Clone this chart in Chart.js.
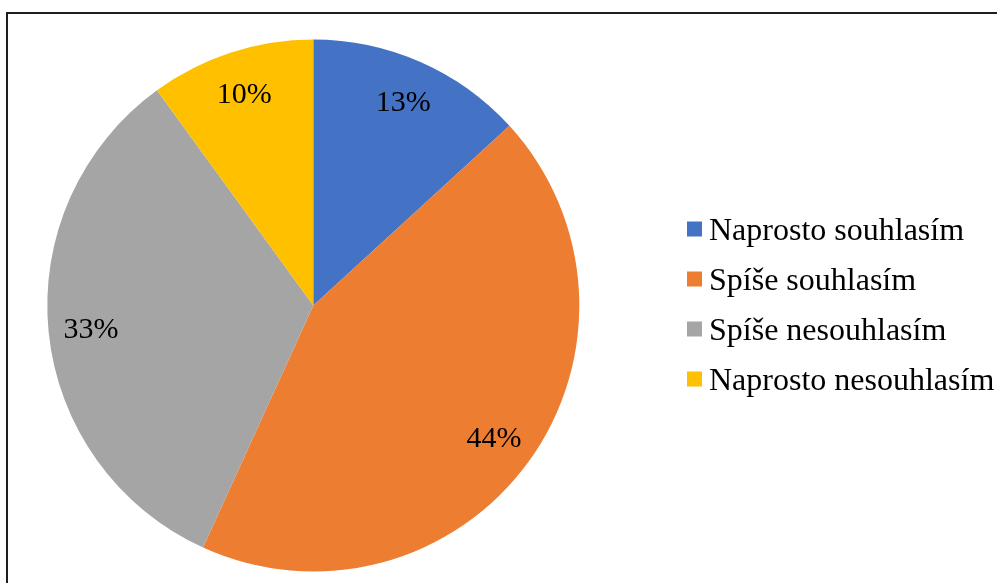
<!DOCTYPE html>
<html>
<head>
<meta charset="utf-8">
<script src="https://cdn.jsdelivr.net/npm/chart.js@4/dist/chart.umd.min.js"></script>
<style>
  html, body { margin: 0; padding: 0; background: #fff; overflow: hidden; }
  #wrap { position: relative; width: 997px; height: 583px; }
  #frame {
    position: absolute; left: 6px; top: 12px; width: 1100px; height: 700px;
    border-left: 2px solid #1e1e1e; border-top: 2px solid #1e1e1e;
  }
  canvas { position: absolute; left: 0; top: 0; }
</style>
</head>
<body>
<div id="wrap">
  <div id="frame"></div>
  <canvas id="chart" width="997" height="583"></canvas>
</div>
<script>
const categories = ['Naprosto souhlasím', 'Spíše souhlasím', 'Spíše nesouhlasím', 'Naprosto nesouhlasím'];
const shares = [13.2, 43.6, 33.2, 10.0];
const colors = ['#4472C4', '#ED7D31', '#A5A5A5', '#FFC000'];

const serif = '"Liberation Serif", "Times New Roman", serif';

// percent labels inside the slices, near the rim
const sliceLabels = {
  id: 'sliceLabels',
  afterDatasetsDraw(chart) {
    const { ctx } = chart;
    const meta = chart.getDatasetMeta(0);
    ctx.save();
    ctx.font = `30px ${serif}`;
    ctx.fillStyle = '#000';
    ctx.textAlign = 'center';
    ctx.textBaseline = 'alphabetic';
    meta.data.forEach((arc, i) => {
      const { x, y, startAngle, endAngle, outerRadius } = arc.getProps(['x', 'y', 'startAngle', 'endAngle', 'outerRadius'], true);
      const mid = (startAngle + endAngle) / 2;
      const r = outerRadius * 0.84;
      const px = x + Math.cos(mid) * r;
      const py = y + Math.sin(mid) * r;
      ctx.fillText(`${Math.round(shares[i])}%`, px, py + 10.5);
    });
    ctx.restore();
  },
};

// legend drawn to the right of the pie
const sideLegend = {
  id: 'sideLegend',
  afterDraw(chart) {
    const { ctx } = chart;
    const items = chart.legend.legendItems;
    ctx.save();
    ctx.font = `32px ${serif}`;
    ctx.textBaseline = 'alphabetic';
    items.forEach((item, i) => {
      const cy = 229 + i * 50;
      ctx.fillStyle = item.fillStyle;
      ctx.fillRect(687, cy - 7.5, 15, 15);
      ctx.fillStyle = '#000';
      ctx.fillText(item.text, 709, cy + 10.5);
    });
    ctx.restore();
  },
};

new Chart(document.getElementById('chart'), {
  type: 'pie',
  data: {
    labels: categories,
    datasets: [{
      data: shares,
      backgroundColor: colors,
      borderWidth: 0,
    }],
  },
  options: {
    responsive: false,
    animation: false,
    layout: { padding: { left: 47.3, right: 417.7, top: 39.5, bottom: 11.5 } },
    plugins: {
      legend: { display: false },
      tooltip: { enabled: false },
    },
  },
  plugins: [sliceLabels, sideLegend],
});
</script>
</body>
</html>
